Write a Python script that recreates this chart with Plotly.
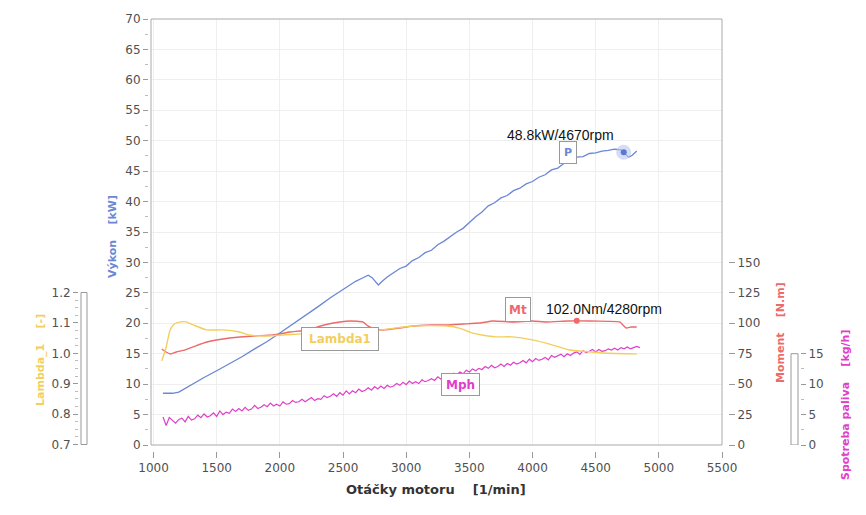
import plotly.graph_objects as go

# ---------------- data ----------------
rpm_p = [1075, 1150, 1200, 1250, 1300, 1400, 1500, 1600, 1700, 1800, 1900, 2000, 2100, 2200,
         2300, 2400, 2500, 2600, 2650, 2700, 2730, 2760, 2780, 2810, 2850, 2900, 2950, 3000,
         3050, 3100, 3150, 3200, 3250, 3300, 3350, 3400, 3450, 3500, 3550, 3600, 3650, 3700,
         3750, 3800, 3850, 3900, 3950, 4000, 4050, 4100, 4150, 4200, 4250, 4300, 4350, 4400,
         4450, 4500, 4550, 4600, 4650, 4700, 4722, 4760, 4790, 4825]
power_kw = [8.5, 8.5, 8.7, 9.3, 10.0, 11.1, 12.2, 13.3, 14.5, 15.8, 17.0, 18.4, 19.8, 21.3,
            22.7, 24.2, 25.5, 26.9, 27.4, 27.9, 27.5, 26.8, 26.3, 26.9, 27.6, 28.3, 29.0, 29.4,
            30.3, 30.8, 31.6, 32.0, 32.9, 33.5, 34.3, 35.0, 35.6, 36.6, 37.5, 38.3, 39.3, 39.8,
            40.6, 41.0, 41.8, 42.2, 42.9, 43.3, 44.0, 44.4, 45.2, 45.5, 46.3, 46.6, 47.3, 47.4,
            47.9, 48.0, 48.3, 48.4, 48.6, 48.5, 48.1, 47.3, 47.6, 48.3]

rpm_mt = [1065, 1100, 1135, 1180, 1250, 1330, 1423, 1550, 1684, 1800, 1945, 2080, 2214, 2350,
          2475, 2560, 2657, 2697, 2750, 2815, 2950, 3053, 3200, 3322, 3450, 3583, 3686, 3844,
          4000, 4113, 4280, 4450, 4600, 4690, 4740, 4780, 4825]
torque_nm = [78.9, 76.4, 74.8, 76.4, 78.1, 81.3, 84.6, 87.1, 88.7, 89.6, 90.4, 92.8, 94.5, 98.6,
             101.1, 101.9, 101.1, 97.8, 95.3, 94.5, 96.1, 97.8, 98.6, 98.6, 99.4, 100.2, 101.9, 101.1,
             101.9, 101.1, 101.9, 101.9, 101.6, 101.1, 96.1, 96.9, 96.9]

rpm_lambda = [1065, 1100, 1130, 1160, 1190, 1250, 1310, 1420, 1550, 1680, 1760, 1900, 2020, 2160,
              2300, 2450, 2600, 2800, 3050, 3320, 3420, 3520, 3600, 3710, 3840, 4000, 4160, 4290,
              4450, 4600, 4825]
lambda_1 = [0.975, 1.020, 1.075, 1.095, 1.101, 1.104, 1.094, 1.077, 1.077, 1.070, 1.060, 1.057,
            1.060, 1.064, 1.066, 1.070, 1.074, 1.077, 1.090, 1.090, 1.083, 1.067, 1.060, 1.054,
            1.054, 1.044, 1.027, 1.011, 1.005, 1.000, 0.998]

rpm_fuel = list(range(1075, 4851, 25))
fuel_kgh = [4.6, 3.2, 4.5, 4.0, 3.6, 4.2, 4.4, 3.8, 4.7, 4.1,
            4.3, 4.9, 4.5, 5.1, 4.6, 4.8, 5.3, 4.7, 5.6, 5.0,
            5.4, 5.2, 5.9, 5.5, 6.0, 5.6, 6.2, 5.7, 5.9, 6.5,
            6.0, 6.2, 6.6, 6.3, 6.9, 6.4, 6.7, 6.4, 7.1, 6.7,
            6.8, 7.3, 7.0, 7.1, 7.5, 7.1, 7.4, 7.8, 7.3, 7.6,
            7.5, 8.1, 7.8, 8.0, 8.4, 8.0, 8.6, 8.2, 8.9, 8.4,
            8.9, 8.6, 9.2, 8.8, 9.0, 9.4, 9.0, 9.6, 9.2, 9.7,
            9.3, 9.8, 9.5, 9.7, 10.1, 9.8, 10.3, 9.9, 10.5, 10.1,
            10.4, 10.1, 10.7, 10.4, 10.6, 10.9, 10.6, 11.2, 10.8, 11.4,
            11.0, 11.5, 11.8, 11.5, 12.0, 11.7, 12.3, 12.0, 12.5, 12.2,
            12.6, 12.4, 12.9, 12.6, 13.1, 12.7, 12.9, 13.3, 12.9, 13.4,
            13.1, 13.6, 13.3, 13.5, 13.9, 13.5, 14.1, 13.7, 14.2, 13.9,
            14.1, 14.4, 14.0, 14.7, 14.4, 14.6, 14.9, 14.5, 15.0, 14.7,
            15.1, 15.3, 14.9, 15.5, 15.2, 15.4, 15.7, 15.3, 15.7, 15.4,
            15.5, 15.8, 15.6, 15.9, 15.6, 16.0, 15.8, 16.1, 15.8, 16.0, 16.2, 16.0]

peak_p = (4722, 48.1)
peak_mt = (4350, 102.0)

x_ticks = [1000, 1500, 2000, 2500, 3000, 3500, 4000, 4500, 5000, 5500]
moment_ticks = [0, 25, 50, 75, 100, 125, 150]
fuel_ticks = [0, 5, 10, 15]
lambda_ticks = [0.7, 0.8, 0.9, 1.0, 1.1, 1.2]

# ---------------- styling ----------------
BLUE = "#6b87d6"
RED = "#ec6a6a"
YELLOW = "#f2cf5b"
MAGENTA = "#e040c8"
TICKC = "#999999"
TF = dict(family="DejaVu Sans", size=12, color="#505050")

# the page body adds an 8px offset; figure is sized so it fits the window
W, H = 858, 507
ML, MR, MT, MB = 12, 10, 11, 20


def px(sx):
    # screen x -> paper x
    return (sx - 20) / 836


def py(sy):
    # screen y -> paper y
    return (495 - sy) / 476


fig = go.Figure()
fig.add_trace(go.Scatter(x=rpm_fuel, y=fuel_kgh, yaxis="y3", mode="lines",
                         line=dict(color=MAGENTA, width=1.2)))
fig.add_trace(go.Scatter(x=rpm_lambda, y=lambda_1, yaxis="y4", mode="lines",
                         line=dict(color=YELLOW, width=1.4, shape="spline", smoothing=0.5)))
fig.add_trace(go.Scatter(x=rpm_mt, y=torque_nm, yaxis="y2", mode="lines",
                         line=dict(color=RED, width=1.4, shape="spline", smoothing=0.4)))
fig.add_trace(go.Scatter(x=rpm_p, y=power_kw, yaxis="y", mode="lines",
                         line=dict(color=BLUE, width=1.3)))
fig.add_trace(go.Scatter(x=[peak_p[0]], y=[peak_p[1]], yaxis="y", mode="markers",
                         marker=dict(size=15, color="rgba(185,198,240,0.6)")))
fig.add_trace(go.Scatter(x=[peak_p[0]], y=[peak_p[1]], yaxis="y", mode="markers",
                         marker=dict(size=6, color="#5a78d0")))
fig.add_trace(go.Scatter(x=[peak_mt[0]], y=[peak_mt[1]], yaxis="y2", mode="markers",
                         marker=dict(size=6, color=RED)))

common = dict(tickfont=TF, tickcolor=TICKC, zeroline=False, showline=False, automargin=False)

fig.update_layout(
    width=W, height=H,
    margin=dict(l=ML, r=MR, t=MT, b=MB, autoexpand=False),
    plot_bgcolor="white", paper_bgcolor="white",
    showlegend=False,
    xaxis=dict(domain=[px(151), px(722)], range=[980, 5500], anchor="free", position=py(451),
               tickmode="array", tickvals=x_ticks, ticks="outside", ticklen=6,
               showgrid=True, gridcolor="#efefef", **common),
    yaxis=dict(domain=[py(445), py(19)], range=[0, 70], anchor="free", position=px(148),
               dtick=5, ticks="outside", ticklen=5,
               minor=dict(dtick=2.5, ticks="outside", ticklen=3, tickcolor="#bbbbbb", showgrid=False),
               showgrid=True, gridcolor="#efefef", **common),
    yaxis2=dict(overlaying="y", side="right", anchor="free", position=px(728), range=[0, 350],
                tickmode="array", tickvals=moment_ticks, ticks="outside", ticklen=6,
                showgrid=False, **common),
    yaxis3=dict(overlaying="y", side="right", anchor="free", position=px(800), range=[0, 70],
                tickmode="array", tickvals=fuel_ticks, ticks="outside", ticklen=5,
                minor=dict(tickmode="array", tickvals=[2.5, 7.5, 12.5], ticks="outside", ticklen=3,
                           tickcolor="#bbbbbb"),
                showgrid=False, **common),
    yaxis4=dict(overlaying="y", side="left", anchor="free", position=px(78),
                range=[0.69836, 2.09967],
                tickmode="array", tickvals=lambda_ticks, tickformat=".1f", ticks="outside", ticklen=5,
                minor=dict(tickmode="array",
                           tickvals=[0.725, 0.75, 0.775, 0.825, 0.85, 0.875, 0.925, 0.95, 0.975,
                                     1.025, 1.05, 1.075, 1.125, 1.15, 1.175],
                           ticks="outside", ticklen=3, tickcolor="#bbbbbb"),
                showgrid=False, **common),
)

# frame and scale boxes
fig.add_shape(type="rect", xref="paper", yref="paper", x0=px(151), x1=px(722), y0=py(445), y1=py(19),
              line=dict(color="#aaaaaa", width=1), layer="above")
fig.add_shape(type="rect", xref="paper", yref="y4", x0=px(81), x1=px(87), y0=0.7, y1=1.2,
              line=dict(color="#999999", width=1))
fig.add_shape(type="rect", xref="paper", yref="y3", x0=px(791), x1=px(798), y0=0, y1=15,
              line=dict(color="#999999", width=1))

NB = "\u00a0"
titles = [
    ("<b>Otáčky motoru" + NB * 4 + "[1/min]</b>", px(436), py(489), 0, "#333333", 13),
    ("<b>Výkon" + NB * 4 + "[kW]</b>", px(112), py(237), -90, BLUE, 11),
    ("<b>Lambda_1" + NB * 4 + "[-]</b>", px(40), py(360), -90, YELLOW, 11),
    ("<b>Moment" + NB * 4 + "[N.m]</b>", px(780), py(333), -90, RED, 11),
    ("<b>Spotreba paliva" + NB * 4 + "[kg/h]</b>", px(845), py(405), -90, MAGENTA, 11),
]
for text, x, y, ang, col, size in titles:
    fig.add_annotation(text=text, x=x, y=y, xref="paper", yref="paper", showarrow=False,
                       textangle=ang, xanchor="center", yanchor="middle",
                       font=dict(family="DejaVu Sans", size=size, color=col))

# value texts
fig.add_annotation(text="48.8kW/4670rpm", x=4222, y=50.9, xref="x", yref="y", showarrow=False,
                   font=dict(family="Liberation Sans", size=14, color="#111111"))
fig.add_annotation(text="102.0Nm/4280rpm", x=4566, y=22.3, xref="x", yref="y", showarrow=False,
                   font=dict(family="Liberation Sans", size=14, color="#111111"))

# boxed series labels
labels = [
    ("<b>P</b>", 4279, 48.1, BLUE, 10, 15, 11),
    ("<b>Mt</b>", 3884, 22.2, RED, 18, 17, 12),
    ("<b>Lambda1</b>", 2480, 17.4, YELLOW, 70, 16, 12),
    ("<b>Mph</b>", 3433, 10.0, MAGENTA, 31, 15, 12),
]
for text, x, y, col, w, h, size in labels:
    fig.add_annotation(text=text, x=x, y=y, xref="x", yref="y", showarrow=False,
                       width=w, height=h, borderpad=3, bgcolor="white",
                       bordercolor="#999999", borderwidth=1,
                       font=dict(family="DejaVu Sans", size=size, color=col))

fig.write_html("out.html")
